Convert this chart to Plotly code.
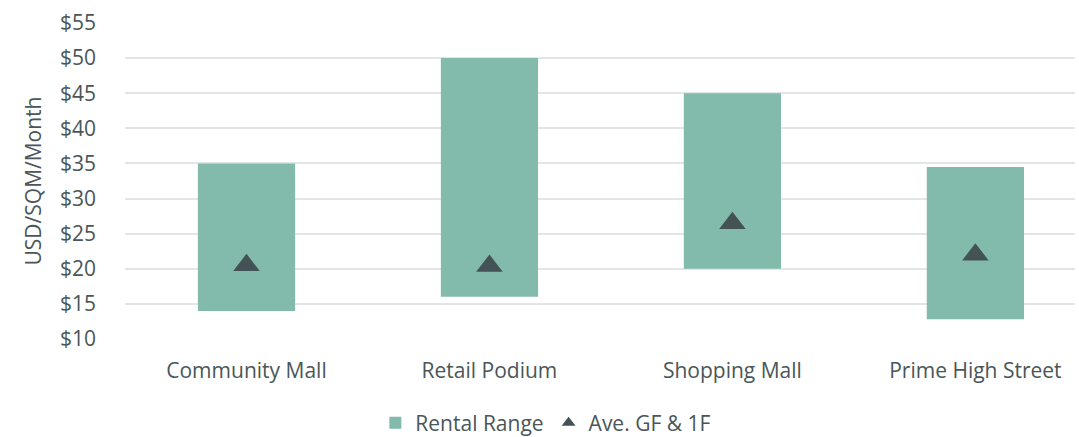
import plotly.graph_objects as go

categories = ["Community Mall", "Retail Podium", "Shopping Mall", "Prime High Street"]
range_low = [14.0, 16.0, 20.0, 12.8]
range_high = [35.0, 50.0, 45.0, 34.5]
average_gf_1f = [20.5, 20.4, 26.5, 22.0]
y_ticks = [10, 15, 20, 25, 30, 35, 40, 45, 50, 55]
y_tick_labels = [f"${v}" for v in y_ticks]

bar_color = "#82BAAC"
marker_color = "#435254"
text_color = "#4A5658"
font_family = "Open Sans"
font_size = 21

fig = go.Figure()

fig.add_trace(go.Bar(
    x=categories,
    y=[h - l for h, l in zip(range_high, range_low)],
    base=range_low,
    name="Rental Range",
    marker=dict(color=bar_color, line=dict(width=0)),
    width=0.4,
))

fig.add_trace(go.Scatter(
    x=categories,
    y=average_gf_1f,
    name="Ave. GF & 1F",
    mode="markers",
    marker=dict(symbol="triangle-up", size=23, color=marker_color),
))

fig.update_layout(
    width=1079,
    height=437,
    margin=dict(l=125, r=4, t=23, b=98, autoexpand=False),
    paper_bgcolor="white",
    plot_bgcolor="white",
    font=dict(family=font_family, size=font_size, color=text_color),
    showlegend=True,
    legend=dict(
        orientation="h",
        x=0.443, xanchor="center",
        yref="container",
        y=0.032, yanchor="middle",
        font=dict(family=font_family, size=font_size, color=text_color),
        itemsizing="constant",
        traceorder="normal",
    ),
)

fig.update_xaxes(
    range=[-0.5, 3.41],
    showgrid=False,
    showline=False,
    zeroline=False,
    ticks="",
    automargin=False,
    ticklabelstandoff=17,
    tickfont=dict(family=font_family, size=font_size, color=text_color),
)

fig.update_yaxes(
    range=[10, 55],
    tickmode="array",
    tickvals=y_ticks,
    ticktext=y_tick_labels,
    showgrid=True,
    gridcolor="#E3E6E6",
    gridwidth=1.5,
    zeroline=False,
    showline=False,
    ticks="",
    automargin=False,
    ticklabelstandoff=28,
    tickfont=dict(family=font_family, size=font_size, color=text_color),
    title=dict(text="USD/SQM/Month", font=dict(family=font_family, size=font_size, color=text_color), standoff=12),
)

fig.write_html("out.html")
